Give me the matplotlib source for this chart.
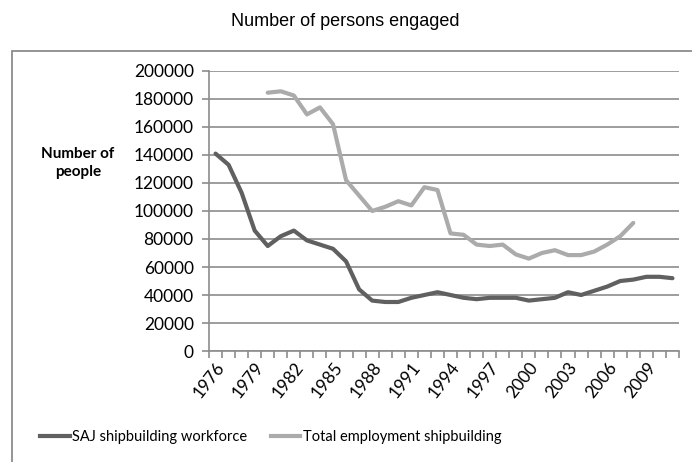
import numpy as np
import matplotlib.pyplot as plt
from matplotlib.patches import Rectangle
from matplotlib.lines import Line2D

years = list(range(1976, 2012))
saj = [141000, 133000, 113000, 86000, 75000, 82000, 86000, 79000, 76000, 73000,
       64000, 44000, 36000, 35000, 35000, 38000, 40000, 42000, 40000, 38000,
       37000, 38000, 38000, 38000, 36000, 37000, 38000, 42000, 40000, 43000,
       46000, 50000, 51000, 53000, 53000, 52000]
total_years = list(range(1980, 2009))
total = [184500, 185500, 182500, 169000, 174000, 162000, 122000, 111000, 100000,
         103000, 107000, 104000, 117000, 115000, 84000, 83000, 76000, 75000,
         76000, 69000, 66000, 70000, 72000, 68500, 68500, 71000, 76000, 82000,
         91500]
yticks = list(range(0, 200001, 20000))

plt.rcParams['font.family'] = ['Lato', 'DejaVu Sans']

fig = plt.figure(figsize=(6.92, 4.62), dpi=100)
ax = fig.add_axes([209 / 692, 1 - 351 / 462, 470 / 692, 280 / 462])

# chart border
fig.patches.append(Rectangle((12 / 692, -0.1), 1.1, 1 - 51 / 462 + 0.1,
                             transform=fig.transFigure, fill=False,
                             edgecolor='#8c8c8c', linewidth=1.3))

xs = np.arange(len(years)) + 0.5
x_total = np.array([years.index(y) for y in total_years]) + 0.5
ax.plot(xs, saj, color='#606060', lw=3, solid_capstyle='round',
        solid_joinstyle='round')
ax.plot(x_total, total, color='#ababab', lw=3, solid_capstyle='round',
        solid_joinstyle='round')

ax.set_xlim(0, len(years))
ax.set_ylim(0, 200000)
ax.set_yticks(yticks)
ax.set_yticklabels([str(v) for v in yticks], fontsize=12.5)
ax.yaxis.grid(True, color='#8c8c8c', lw=1.2)
ax.set_axisbelow(True)

ax.set_xticks(np.arange(len(years) + 1))
ax.set_xticklabels([])
ax.set_xticks(xs[::3], minor=True)
ax.set_xticklabels([str(y) for y in years[::3]], minor=True, rotation=52,
                   fontsize=12.5, ha='right', rotation_mode='anchor')
ax.tick_params(axis='x', which='major', length=5, color='#8c8c8c', width=1.2)
ax.tick_params(axis='x', which='minor', length=0, pad=6)
ax.tick_params(axis='y', length=5, color='#8c8c8c', width=1.2, pad=6)

for s in ['top', 'right']:
    ax.spines[s].set_visible(False)
for s in ['left', 'bottom']:
    ax.spines[s].set_color('#8c8c8c')
    ax.spines[s].set_linewidth(1.2)

fig.text(345 / 692, 1 - 21 / 462, 'Number of persons engaged',
         family='Liberation Sans', fontsize=13, ha='center', va='center')
fig.text(78 / 692, 1 - 163 / 462, 'Number of\npeople', fontsize=11,
         fontweight='bold', ha='center', va='center', linespacing=1.4)

handles = [Line2D([], [], color='#606060', lw=3),
           Line2D([], [], color='#ababab', lw=3)]
fig.legend(handles, ['SAJ shipbuilding workforce', 'Total employment shipbuilding'],
           loc='center', bbox_to_anchor=(271 / 692, 1 - 437 / 462), ncol=2,
           frameon=False, fontsize=10.5, handlelength=2.0, handletextpad=0.2,
           columnspacing=1.6)

fig.savefig('out.png', dpi=100)
